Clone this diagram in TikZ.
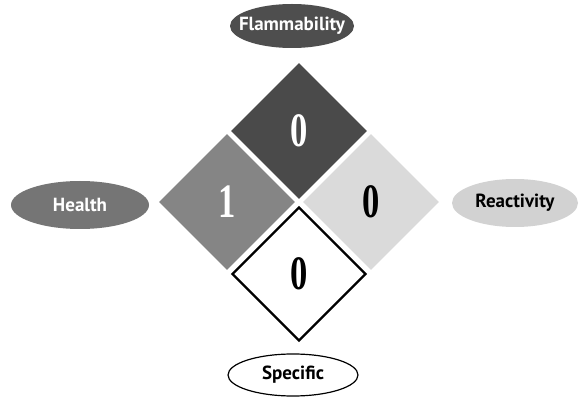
\documentclass[tikz,border=0pt]{standalone}
\usepackage{fontspec}
\setmainfont{Liberation Serif}
\newfontfamily\labfont{PT Sans}
\usetikzlibrary{shapes.geometric}
\definecolor{flamc}{HTML}{4E4E4E}
\definecolor{flamd}{HTML}{4A4A4A}
\definecolor{healc}{HTML}{757575}
\definecolor{heald}{HTML}{858585}
\definecolor{reacc}{HTML}{D2D2D2}
\definecolor{reacd}{HTML}{DADADA}
\tikzset{
  sq/.style={diamond, aspect=1, minimum width=136pt, minimum height=136pt, inner sep=0pt, draw=none},
  num/.style={font=\fontsize{48}{48}\selectfont\bfseries},
  lab/.style={ellipse, inner sep=0pt, font=\labfont\fontsize{19}{19}\selectfont\bfseries},
}
\newcommand{\cnum}[1]{\scalebox{0.72}[1]{#1}}
\newcommand{\ltext}[1]{\makebox[0pt]{#1}}
\begin{document}
\begin{tikzpicture}[x=1pt,y=-1pt]
\useasboundingbox (0,0) rectangle (579,398);
% diamonds
\node[sq, fill=flamd, num, text=white] (top) at (299,131) {\cnum{0}};
\node[sq, fill=heald, num, text=white] (left) at (227,202) {\cnum{1}};
\node[sq, fill=reacd, num, text=black] (right) at (371,202) {\cnum{0}};
\node[diamond, aspect=1, minimum width=134pt, minimum height=134pt, inner sep=0pt, fill=white, draw=black, line width=2.4pt, num, text=black] (bot) at (299,274) {\cnum{0}};
% labels
\node[lab, fill=flamc, text=white, minimum width=124pt, minimum height=44pt] (flam) at (292,26) {\ltext{Flammability}};
\node[lab, fill=healc, text=white, minimum width=138pt, minimum height=48pt] (heal) at (80,205) {\ltext{Health}};
\node[lab, fill=reacc, text=black, minimum width=126pt, minimum height=48pt] (reac) at (515,203) {\ltext{Reactivity}};
\node[lab, fill=white, draw=black, line width=1.2pt, text=black, minimum width=130pt, minimum height=42pt] (spec) at (293,375) {\ltext{Specific}};
\end{tikzpicture}
\end{document}
